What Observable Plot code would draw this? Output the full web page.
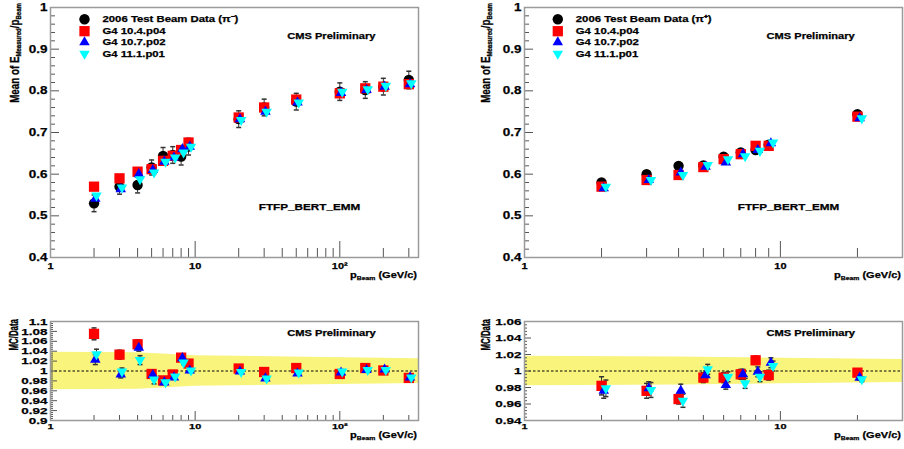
<!DOCTYPE html>
<html><head><meta charset="utf-8">
<script src="https://cdn.jsdelivr.net/npm/d3@7"></script>
<script src="https://cdn.jsdelivr.net/npm/@observablehq/plot@0.6"></script>
<style>
body{margin:0;background:#fff;}
#root{position:relative;width:904px;height:449px;overflow:hidden;font-family:"Liberation Sans",Arial,Helvetica,sans-serif;font-weight:bold;}
.pnl{position:absolute;}
.pnl svg text{stroke:#000;stroke-width:0.25px;}
.ttl{position:absolute;left:0;top:0;white-space:nowrap;color:#000;transform-origin:0 0;line-height:1;-webkit-text-stroke:0.25px #000;}
.ttl sub{font-size:0.62em;vertical-align:-0.3em;line-height:0;}
</style></head><body><div id="root"></div>
<script>
// ---------------- data: pi- (left) ----------------
const pMinus    = [2, 3, 4, 5, 6, 7, 8, 9, 20, 30, 50, 100, 150, 200, 300];
const dataMinus = [0.530, 0.570, 0.574, 0.616, 0.644, 0.646, 0.642, 0.666, 0.732, 0.760, 0.774, 0.798, 0.802, 0.810, 0.826];
const errMinus  = [0.020, 0.018, 0.019, 0.018, 0.020, 0.020, 0.020, 0.020, 0.020, 0.020, 0.020, 0.021, 0.020, 0.020, 0.021];
const g104Minus = [0.570, 0.590, 0.606, 0.612, 0.632, 0.644, 0.658, 0.676, 0.736, 0.760, 0.779, 0.794, 0.806, 0.810, 0.816];
const g107Minus = [0.541, 0.564, 0.600, 0.610, 0.630, 0.640, 0.660, 0.666, 0.732, 0.750, 0.772, 0.795, 0.802, 0.810, 0.816];
const g111Minus = [0.549, 0.568, 0.588, 0.604, 0.630, 0.640, 0.652, 0.666, 0.730, 0.750, 0.772, 0.798, 0.804, 0.812, 0.818];
const r104Minus = [1.075, 1.033, 1.054, 0.994, 0.981, 0.993, 1.027, 1.015, 1.005, 0.998, 1.006, 0.994, 1.006, 1.001, 0.986];
const r107Minus = [1.023, 0.993, 1.047, 0.992, 0.977, 0.987, 1.026, 1.001, 0.999, 0.985, 0.995, 0.997, 1.002, 1.003, 0.987];
const r111Minus = [1.034, 0.999, 1.022, 0.983, 0.977, 0.989, 1.017, 1.001, 0.998, 0.985, 0.997, 0.999, 1.002, 1.002, 0.987];
const e104Minus = [0.012, 0.009, 0.009, 0.005, 0.004, 0.004, 0.004, 0.004, 0.003, 0.003, 0.003, 0.003, 0.003, 0.003, 0.003];
const e107Minus = [0.010, 0.007, 0.007, 0.005, 0.004, 0.004, 0.004, 0.004, 0.003, 0.003, 0.003, 0.003, 0.003, 0.003, 0.003];
const e111Minus = [0.010, 0.007, 0.009, 0.009, 0.004, 0.004, 0.004, 0.004, 0.003, 0.003, 0.003, 0.003, 0.003, 0.003, 0.003];
const bandMinusP    = [1, 4, 10, 350];
const bandMinusHalf = [0.038, 0.037, 0.031, 0.025];

// ---------------- data: pi+ (right) ----------------
const pPlus    = [2, 3, 4, 5, 6, 7, 8, 9, 20];
const dataPlus = [0.580, 0.600, 0.620, 0.621, 0.642, 0.652, 0.658, 0.671, 0.744];
const errPlus  = [0.005, 0.005, 0.005, 0.005, 0.005, 0.005, 0.005, 0.005, 0.005];
const g104Plus = [0.570, 0.586, 0.598, 0.617, 0.636, 0.648, 0.668, 0.668, 0.738];
const g107Plus = [0.566, 0.586, 0.604, 0.618, 0.628, 0.648, 0.658, 0.674, 0.734];
const g111Plus = [0.570, 0.586, 0.598, 0.622, 0.636, 0.643, 0.656, 0.676, 0.734];
const r104Plus = [0.982, 0.976, 0.966, 0.992, 0.992, 0.996, 1.013, 0.995, 0.998];
const r107Plus = [0.976, 0.979, 0.976, 0.995, 0.983, 0.996, 0.999, 1.010, 0.992];
const r111Plus = [0.979, 0.977, 0.964, 1.002, 0.993, 0.985, 0.993, 1.006, 0.990];
const e104Plus = [0.011, 0.009, 0.006, 0.006, 0.006, 0.006, 0.005, 0.006, 0.003];
const e107Plus = [0.009, 0.008, 0.008, 0.005, 0.005, 0.006, 0.006, 0.006, 0.003];
const e111Plus = [0.010, 0.009, 0.008, 0.006, 0.006, 0.006, 0.006, 0.006, 0.003];
const bandPlusP    = [1, 4, 10, 30];
const bandPlusHalf = [0.018, 0.017, 0.0155, 0.0138];

// ---------------- labels / ticks ----------------
const dataLabelMinus = "2006 Test Beam Data (π⁻)";
const dataLabelPlus  = "2006 Test Beam Data (π⁺)";
const seriesLabels = ["G4 10.4.p04", "G4 10.7.p02", "G4 11.1.p01"];
const yLabelsTop = [0.4, 0.5, 0.6, 0.7, 0.8, 0.9, 1];
const yLabelsBL  = [0.9, 0.92, 0.94, 0.96, 0.98, 1, 1.02, 1.04, 1.06, 1.08, 1.1];
const yLabelsBR  = [0.94, 0.96, 0.98, 1, 1.02, 1.04, 1.06];
const xLabelsLeft  = [1, 10, 100];
const xLabelsRight = [1, 10];
const xMinorLeft  = [2, 3, 4, 5, 6, 7, 8, 9, 20, 30, 40, 50, 60, 70, 80, 90, 200, 300];
const xMinorRight = [2, 3, 4, 5, 6, 7, 8, 9, 20];

// ---------------- styles ----------------
const FRAME = "#9a9a9a", TICK = "#555", ERR = "#333", BAND = "#f9f47c";
const CAP = {draw(ctx) { ctx.moveTo(-2.5, 0); ctx.lineTo(2.5, 0); }};
const TRI_DOWN = {draw(ctx, size) {
  const s3 = Math.sqrt(3), y = Math.sqrt(size / (s3 * 3));
  ctx.moveTo(0, 2 * y); ctx.lineTo(-s3 * y, -y); ctx.lineTo(s3 * y, -y); ctx.closePath();
}};
const STY = [
  {color: "#ff0000", symbol: "square",   r: 5.8, shift: 1.00},
  {color: "#0000ff", symbol: "triangle", r: 3.9, shift: 1.02},
  {color: "#00ffff", symbol: TRI_DOWN,   r: 3.9, shift: 1.04}
];
const DATA_STY = {color: "#000", symbol: "circle", r: 5.2};

const rows = (p, v, e) => p.map((x, i) => ({p: x, v: v[i], e: e ? e[i] : 0}));
const fmtX = d => d === 100 ? "10²" : String(d);
const fmtY = d3.format("~g");

function build(cfg) {
  const innerW = cfg.width - cfg.ml - cfg.mr, innerH = cfg.height - cfg.mt - cfg.mb;
  const marks = [];
  if (cfg.band) marks.push(Plot.areaY(cfg.band, {x: "p", y1: "lo", y2: "hi", fill: BAND}));
  if (cfg.unity) marks.push(Plot.ruleY([1], {stroke: "#000", strokeWidth: 1, strokeDasharray: "2.5,2"}));
  // ticks inside the frame
  marks.push(Plot.ruleX(cfg.xMajor, {stroke: TICK, insetTop: innerH - cfg.xMajLen}));
  marks.push(Plot.ruleX(cfg.xMinor, {stroke: TICK, insetTop: innerH - cfg.xMinLen}));
  marks.push(Plot.ruleY(cfg.yMajor, {stroke: TICK, insetRight: innerW - cfg.yMajLen}));
  marks.push(Plot.ruleY(cfg.yMinor, {stroke: TICK, insetRight: innerW - cfg.yMinLen}));
  marks.push(Plot.frame({stroke: FRAME, strokeWidth: 1.5}));
  marks.push(Plot.axisX({ticks: cfg.xMajor, tickSize: 0, tickPadding: cfg.xPad, tickFormat: fmtX, fontSize: cfg.xFont, label: null}));
  marks.push(Plot.axisY({ticks: cfg.yMajor, tickSize: 0, tickPadding: 3, tickFormat: fmtY, fontSize: cfg.yFont, label: null}));
  // data (top panels)
  if (cfg.data) {
    const d = cfg.data;
    marks.push(Plot.ruleX(d, {x: "p", y1: r => r.v - r.e, y2: r => r.v + r.e, stroke: ERR, strokeWidth: 1}));
    marks.push(Plot.dot(d, {x: "p", y: r => r.v + r.e, symbol: CAP, stroke: ERR, r: 2}));
    marks.push(Plot.dot(d, {x: "p", y: r => r.v - r.e, symbol: CAP, stroke: ERR, r: 2}));
    marks.push(Plot.dot(d, {x: "p", y: "v", symbol: DATA_STY.symbol, fill: DATA_STY.color, r: DATA_STY.r}));
  }
  cfg.series.forEach((s, k) => {
    const st = STY[k], xs = r => r.p * st.shift;
    if (cfg.errs) {
      marks.push(Plot.ruleX(s, {x: xs, y1: r => r.v - r.e, y2: r => r.v + r.e, stroke: ERR, strokeWidth: 1}));
      marks.push(Plot.dot(s, {x: xs, y: r => r.v + r.e, symbol: CAP, stroke: ERR, r: 2}));
      marks.push(Plot.dot(s, {x: xs, y: r => r.v - r.e, symbol: CAP, stroke: ERR, r: 2}));
    }
  });
  cfg.series.forEach((s, k) => {
    const st = STY[k];
    marks.push(Plot.dot(s, {x: r => r.p * st.shift, y: "v", symbol: st.symbol, fill: st.color, r: st.r}));
  });
  // legend
  if (cfg.legend) {
    const ent = [{label: cfg.legend, ...DATA_STY}, ...seriesLabels.map((l, k) => ({label: l, ...STY[k]}))];
    const dys = [11.7, 23.7, 34.7, 46.3];
    ent.forEach((e, k) => {
      marks.push(Plot.dot([e], {frameAnchor: "top-left", dx: cfg.legDx, dy: dys[k], symbol: e.symbol, fill: e.color, r: e.r}));
      marks.push(Plot.text([e], {frameAnchor: "top-left", dx: cfg.legDx + 18, dy: dys[k], text: "label", textAnchor: "start", lineAnchor: "middle", fontSize: 9.3, fontWeight: "bold", fill: "#000"}));
    });
  }
  (cfg.notes || []).forEach(n => {
    marks.push(Plot.text([n.t], {frameAnchor: "top-left", dx: n.dx, dy: n.dy, text: d => d, textAnchor: "start", lineAnchor: "middle", fontSize: n.fs, fontWeight: "bold", fill: "#000"}));
  });
  const svg = Plot.plot({
    width: cfg.width, height: cfg.height,
    marginLeft: cfg.ml, marginRight: cfg.mr, marginTop: cfg.mt, marginBottom: cfg.mb,
    x: {type: "log", domain: cfg.xDomain},
    y: {domain: cfg.yDomain},
    style: {fontFamily: '"Liberation Sans", Arial, Helvetica, sans-serif', fontWeight: "bold", color: "#000", background: "transparent", overflow: "visible"},
    marks
  });
  const div = document.createElement("div");
  div.className = "pnl";
  div.style.left = cfg.left + "px"; div.style.top = cfg.top + "px";
  div.appendChild(svg);
  document.getElementById("root").appendChild(div);
  // horizontal text stretch as in the reference rendering
  svg.querySelectorAll("text").forEach(t => {
    const w = t.getComputedTextLength();
    if (w > 0) { t.setAttribute("textLength", (w * cfg.k).toFixed(2)); t.setAttribute("lengthAdjust", "spacingAndGlyphs"); }
  });
}

const bandRows = (p, h) => p.map((x, i) => ({p: x, lo: 1 - h[i], hi: 1 + h[i]}));
const yMinorTop = d3.range(0.42, 1.0, 0.02).filter(v => Math.abs(v * 10 - Math.round(v * 10)) > 1e-6);
const minorBetween = (a, b) => d3.range(Math.round(a * 1000), Math.round(b * 1000) + 1, 4).filter(v => v % 20 !== 0).map(v => v / 1000);

const TOP = {height: 290, mt: 7, mb: 33, yDomain: [0.4, 1], yMajor: yLabelsTop, yMinor: yMinorTop,
  xMajLen: 16, xMinLen: 9, yMajLen: 9, yMinLen: 5, xPad: 5, xFont: 9, yFont: 11, k: 1.22, errs: false};
const BOT = {height: 159, mt: 31, mb: 29, xMajLen: 9, xMinLen: 5, yMajLen: 7, yMinLen: 3, xPad: 3, xFont: 8, yFont: 9.9, k: 1.36, unity: true, errs: true};

build({...TOP, left: 0, top: 0, width: 450, ml: 50, mr: 32, xDomain: [1, 350], xMajor: xLabelsLeft, xMinor: xMinorLeft,
  data: rows(pMinus, dataMinus, errMinus),
  series: [rows(pMinus, g104Minus), rows(pMinus, g107Minus), rows(pMinus, g111Minus)],
  legend: dataLabelMinus, legDx: 34,
  notes: [{t: "CMS Preliminary", dx: 236.7, dy: 28.7, fs: 9.1}, {t: "FTFP_BERT_EMM", dx: 208.3, dy: 199.7, fs: 9.6}]});
build({...TOP, left: 450, top: 0, width: 454, ml: 74, mr: 2, xDomain: [1, 30], xMajor: xLabelsRight, xMinor: xMinorRight,
  data: rows(pPlus, dataPlus, errPlus),
  series: [rows(pPlus, g104Plus), rows(pPlus, g107Plus), rows(pPlus, g111Plus)],
  legend: dataLabelPlus, legDx: 33.3,
  notes: [{t: "CMS Preliminary", dx: 242, dy: 28.7, fs: 9.1}, {t: "FTFP_BERT_EMM", dx: 213.3, dy: 199.7, fs: 9.6}]});
build({...BOT, left: 0, top: 290, width: 450, ml: 50, mr: 32, xDomain: [1, 350], xMajor: xLabelsLeft, xMinor: xMinorLeft,
  yDomain: [0.9, 1.1], yMajor: yLabelsBL, yMinor: minorBetween(0.9, 1.1),
  band: bandRows(bandMinusP, bandMinusHalf),
  series: [rows(pMinus, r104Minus, e104Minus), rows(pMinus, r107Minus, e107Minus), rows(pMinus, r111Minus, e111Minus)],
  notes: [{t: "CMS Preliminary", dx: 236.7, dy: 12.3, fs: 8.2}]});
build({...BOT, left: 450, top: 290, width: 454, ml: 74, mr: 2, xDomain: [1, 30], xMajor: xLabelsRight, xMinor: xMinorRight,
  yDomain: [0.94, 1.06], yMajor: yLabelsBR, yMinor: minorBetween(0.94, 1.06),
  band: bandRows(bandPlusP, bandPlusHalf),
  series: [rows(pPlus, r104Plus, e104Plus), rows(pPlus, r107Plus, e107Plus), rows(pPlus, r111Plus, e111Plus)],
  notes: [{t: "CMS Preliminary", dx: 242, dy: 12.3, fs: 8.2}]});

// ---------------- axis titles (HTML text with subscripts) ----------------
function title(html, x, y, fs, k, rotated) {
  const el = document.createElement("div");
  el.className = "ttl";
  el.innerHTML = html;
  el.style.fontSize = fs + "px";
  el.style.transform = rotated
    ? `translate(${x}px,${y}px) scaleX(${k}) rotate(-90deg) translate(-100%,-50%)`
    : `translate(${x}px,${y}px) scaleX(${k}) translate(-100%,-50%)`;
  document.getElementById("root").appendChild(el);
}
const yTitleTop = "Mean of E<sub>Measured</sub>/p<sub>Beam</sub>";
const yTitleBot = "MC/Data";
const xTitle = "p<sub>Beam</sub> (GeV/c)";
title(yTitleTop, 15, 3, 9.8, 1.3, true);
title(yTitleTop, 486, 3, 9.8, 1.3, true);
title(yTitleBot, 15, 319, 7.9, 1.5, true);
title(yTitleBot, 487, 319, 7.9, 1.5, true);
title(xTitle, 417, 276, 9.2, 1.2, false);
title(xTitle, 901, 276, 9.2, 1.2, false);
title(xTitle, 417, 436, 9.2, 1.2, false);
title(xTitle, 901, 436, 9.2, 1.2, false);
</script></body></html>
